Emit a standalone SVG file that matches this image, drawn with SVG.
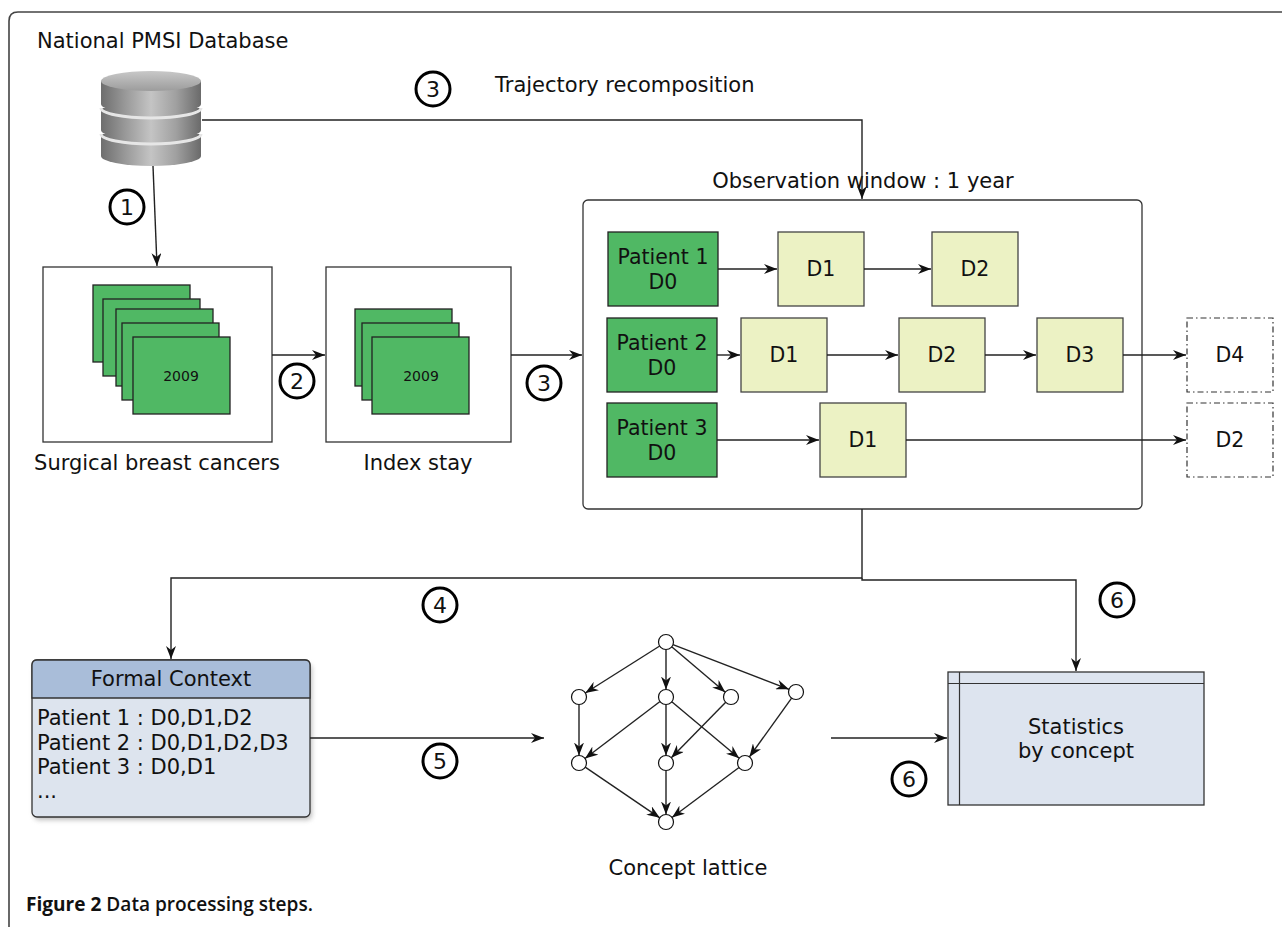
<svg xmlns="http://www.w3.org/2000/svg" width="1282" height="927" viewBox="0 0 1282 927">
<defs>
<style>
.t{font-family:"DejaVu Sans","Liberation Sans",sans-serif;font-size:21px;fill:#111}
.tc{text-anchor:middle}
.ln{fill:none;stroke:#222;stroke-width:1.4}
.num{fill:#fff;stroke:#000;stroke-width:3}
.nt{font-size:22px}
.green{fill:#50b864;stroke:#222;stroke-width:1.3}
.yel{fill:#ecf2c4;stroke:#444;stroke-width:1.3}
.dash{fill:#fff;stroke:#333;stroke-width:1.2;stroke-dasharray:6 3 1.5 3}
.box{fill:#fff;stroke:#333;stroke-width:1.3}
.lat{fill:#fff;stroke:#111;stroke-width:1.2}
</style>
<marker id="ah" markerUnits="userSpaceOnUse" markerWidth="14" markerHeight="10" refX="13" refY="5" orient="auto">
<path d="M0,0 L13,5 L0,10 L4,5 Z" fill="#111"/>
</marker>
<linearGradient id="dbg" x1="0" y1="0" x2="1" y2="0">
<stop offset="0" stop-color="#6e6e6e"/>
<stop offset="0.25" stop-color="#9a9a9a"/>
<stop offset="0.5" stop-color="#c4c4c4"/>
<stop offset="0.75" stop-color="#a0a0a0"/>
<stop offset="1" stop-color="#6a6a6a"/>
</linearGradient>
<linearGradient id="dbtop" x1="0" y1="0" x2="0" y2="1">
<stop offset="0" stop-color="#c8c8c8"/>
<stop offset="1" stop-color="#9c9c9c"/>
</linearGradient>
<filter id="sh" x="-10%" y="-10%" width="130%" height="130%">
<feGaussianBlur stdDeviation="2.5"/>
</filter>
</defs>
<rect width="1282" height="927" fill="#fff"/>

<path d="M9,927 L9,21 Q9,12 18,12 L1282,12" fill="none" stroke="#444" stroke-width="1.6"/>

<text class="t" x="37" y="48">National PMSI Database</text>

<g id="database">
<path d="M101,134 L201,134 L201,156 A50,10 0 0 1 101,156 Z" fill="url(#dbg)"/>
<path d="M101,134 A50,10 0 0 0 201,134" fill="none" stroke="#e6e6e6" stroke-width="3"/>
<path d="M101,108 L201,108 L201,130 A50,10 0 0 1 101,130 Z" fill="url(#dbg)"/>
<path d="M101,108 A50,10 0 0 0 201,108" fill="none" stroke="#e6e6e6" stroke-width="3"/>
<path d="M101,81 L201,81 L201,104 A50,10 0 0 1 101,104 Z" fill="url(#dbg)"/>
<ellipse cx="151" cy="81" rx="50" ry="10" fill="url(#dbtop)"/>
</g>

<g id="surgical">
<rect class="box" x="43" y="267" width="229" height="175"/>
<rect class="green" x="93" y="285" width="97" height="77"/>
<rect class="green" x="103" y="299" width="97" height="77"/>
<rect class="green" x="116" y="309" width="97" height="77"/>
<rect class="green" x="122" y="323" width="97" height="77"/>
<rect class="green" x="133" y="337" width="97" height="77"/>
<text class="t tc" x="181" y="381" style="font-size:14px">2009</text>
<text class="t tc" x="157" y="470">Surgical breast cancers</text>
</g>

<g id="index">
<rect class="box" x="326" y="267" width="185" height="175"/>
<rect class="green" x="355" y="309" width="97" height="77"/>
<rect class="green" x="362" y="323" width="97" height="77"/>
<rect class="green" x="372" y="337" width="97" height="77"/>
<text class="t tc" x="421" y="381" style="font-size:14px">2009</text>
<text class="t tc" x="418" y="470">Index stay</text>
</g>

<g id="window">
<rect x="583" y="200" width="559" height="309" rx="5" fill="none" stroke="#333" stroke-width="1.3"/>
<text class="t tc" x="863" y="188">Observation window : 1 year</text>
</g>

<g id="p1">
<rect class="green" x="608" y="232" width="110" height="74"/>
<text class="t tc" x="663" y="264" style="font-size:20.5px">Patient 1</text>
<text class="t tc" x="663" y="289" style="font-size:20.5px">D0</text>
</g>
<g id="p1d1"><rect class="yel" x="778" y="232" width="86" height="74"/><text class="t tc" x="821" y="276" style="font-size:20.5px">D1</text></g>
<g id="p1d2"><rect class="yel" x="932" y="232" width="86" height="74"/><text class="t tc" x="975" y="276" style="font-size:20.5px">D2</text></g>

<g id="p2">
<rect class="green" x="607" y="318" width="110" height="74"/>
<text class="t tc" x="662" y="350" style="font-size:20.5px">Patient 2</text>
<text class="t tc" x="662" y="375" style="font-size:20.5px">D0</text>
</g>
<g id="p2d1"><rect class="yel" x="741" y="318" width="86" height="74"/><text class="t tc" x="784" y="362" style="font-size:20.5px">D1</text></g>
<g id="p2d2"><rect class="yel" x="899" y="318" width="86" height="74"/><text class="t tc" x="942" y="362" style="font-size:20.5px">D2</text></g>
<g id="p2d3"><rect class="yel" x="1037" y="318" width="86" height="74"/><text class="t tc" x="1080" y="362" style="font-size:20.5px">D3</text></g>
<g id="p2d4"><rect class="dash" x="1187" y="318" width="86" height="74"/><text class="t tc" x="1230" y="362" style="font-size:20.5px">D4</text></g>

<g id="p3">
<rect class="green" x="607" y="403" width="110" height="74"/>
<text class="t tc" x="662" y="435" style="font-size:20.5px">Patient 3</text>
<text class="t tc" x="662" y="460" style="font-size:20.5px">D0</text>
</g>
<g id="p3d1"><rect class="yel" x="820" y="403" width="86" height="74"/><text class="t tc" x="863" y="447" style="font-size:20.5px">D1</text></g>
<g id="p3d2"><rect class="dash" x="1187" y="403" width="86" height="74"/><text class="t tc" x="1230" y="447" style="font-size:20.5px">D2</text></g>

<g id="formal">
<rect x="34" y="664" width="278" height="156" rx="5" fill="#888" opacity="0.55" filter="url(#sh)"/>
<rect x="32" y="660" width="278" height="157" rx="5" fill="#dde4ee" stroke="#333" stroke-width="1.3"/>
<path d="M32,698 L32,665 Q32,660 37,660 L305,660 Q310,660 310,665 L310,698 Z" fill="#a9bdd9" stroke="#333" stroke-width="1.3"/>
<text class="t tc" x="171" y="686">Formal Context</text>
<text class="t" x="37" y="725">Patient 1 : D0,D1,D2</text>
<text class="t" x="37" y="750">Patient 2 : D0,D1,D2,D3</text>
<text class="t" x="37" y="774">Patient 3 : D0,D1</text>
<text class="t" x="37" y="798">...</text>
</g>

<g id="stats">
<rect x="948" y="672" width="256" height="133" fill="#dde4ef" stroke="#333" stroke-width="1.3"/>
<line x1="959.5" y1="672" x2="959.5" y2="805" stroke="#333" stroke-width="1.2"/>
<line x1="948" y1="683.5" x2="1204" y2="683.5" stroke="#333" stroke-width="1.2"/>
<text class="t tc" x="1076" y="734">Statistics</text>
<text class="t tc" x="1076" y="758">by concept</text>
</g>

<g id="lattice">
<g class="ln" marker-end="url(#ah)">
<line x1="659.7" y1="646" x2="585.3" y2="693"/>
<line x1="666" y1="649.5" x2="666" y2="689.5"/>
<line x1="671.7" y1="646.8" x2="725.3" y2="692.2"/>
<line x1="673" y1="644.7" x2="789" y2="689.3"/>
<line x1="579" y1="704.5" x2="579" y2="755.5"/>
<line x1="660" y1="701.5" x2="585" y2="758.5"/>
<line x1="666" y1="704.5" x2="666" y2="755.5"/>
<line x1="671.8" y1="701.8" x2="739.2" y2="758.2"/>
<line x1="725.7" y1="702.3" x2="671.3" y2="757.7"/>
<line x1="791.6" y1="698.1" x2="749.4" y2="756.9"/>
<line x1="585.2" y1="767.2" x2="659.8" y2="817.8"/>
<line x1="666" y1="770.5" x2="666" y2="814.5"/>
<line x1="739" y1="767.5" x2="672" y2="817.5"/>
</g>
<circle class="lat" cx="666" cy="642" r="7.5"/>
<circle class="lat" cx="579" cy="697" r="7.5"/>
<circle class="lat" cx="666" cy="697" r="7.5"/>
<circle class="lat" cx="731" cy="697" r="7.5"/>
<circle class="lat" cx="796" cy="692" r="7.5"/>
<circle class="lat" cx="579" cy="763" r="7.5"/>
<circle class="lat" cx="666" cy="763" r="7.5"/>
<circle class="lat" cx="745" cy="763" r="7.5"/>
<circle class="lat" cx="666" cy="822" r="7.5"/>
<text class="t tc" x="688" y="875">Concept lattice</text>
</g>

<g id="connectors" class="ln">
<line x1="153" y1="166" x2="157" y2="266" marker-end="url(#ah)"/>
<polyline points="202,120 862,120 862,199" marker-end="url(#ah)"/>
<line x1="272" y1="355" x2="325" y2="355" marker-end="url(#ah)"/>
<line x1="511" y1="355" x2="582" y2="355" marker-end="url(#ah)"/>
<line x1="718" y1="269" x2="777" y2="269" marker-end="url(#ah)"/>
<line x1="864" y1="269" x2="931" y2="269" marker-end="url(#ah)"/>
<line x1="717" y1="355" x2="740" y2="355" marker-end="url(#ah)"/>
<line x1="827" y1="355" x2="898" y2="355" marker-end="url(#ah)"/>
<line x1="985" y1="355" x2="1036" y2="355" marker-end="url(#ah)"/>
<line x1="1123" y1="355" x2="1186" y2="355" marker-end="url(#ah)"/>
<line x1="717" y1="440" x2="819" y2="440" marker-end="url(#ah)"/>
<line x1="906" y1="440" x2="1186" y2="440" marker-end="url(#ah)"/>
<polyline points="862,509 862,578 171,578 171,659" marker-end="url(#ah)"/>
<polyline points="862,578 862,580 1076,580 1076,671" marker-end="url(#ah)"/>
<line x1="310" y1="738" x2="544" y2="738" marker-end="url(#ah)"/>
<line x1="831" y1="738" x2="947" y2="738" marker-end="url(#ah)"/>
</g>

<g id="steps">
<circle class="num" cx="127" cy="207" r="17"/><text class="t tc nt" x="127" y="215">1</text>
<circle class="num" cx="433" cy="89" r="17"/><text class="t tc nt" x="433" y="97">3</text>
<circle class="num" cx="297" cy="381" r="17"/><text class="t tc nt" x="297" y="389">2</text>
<circle class="num" cx="544" cy="383" r="17"/><text class="t tc nt" x="544" y="391">3</text>
<circle class="num" cx="440" cy="605" r="17"/><text class="t tc nt" x="440" y="613">4</text>
<circle class="num" cx="440" cy="761" r="17"/><text class="t tc nt" x="440" y="769">5</text>
<circle class="num" cx="1117" cy="600" r="17"/><text class="t tc nt" x="1117" y="608">6</text>
<circle class="num" cx="909" cy="779" r="17"/><text class="t tc nt" x="909" y="787">6</text>
</g>

<text class="t" x="495" y="92">Trajectory recomposition</text>

<text x="26" y="911" textLength="287" lengthAdjust="spacingAndGlyphs" style="font-family:'Open Sans','Liberation Sans',sans-serif;font-size:19px;fill:#111"><tspan font-weight="700">Figure 2</tspan><tspan font-weight="600"> Data processing steps.</tspan></text>
</svg>
